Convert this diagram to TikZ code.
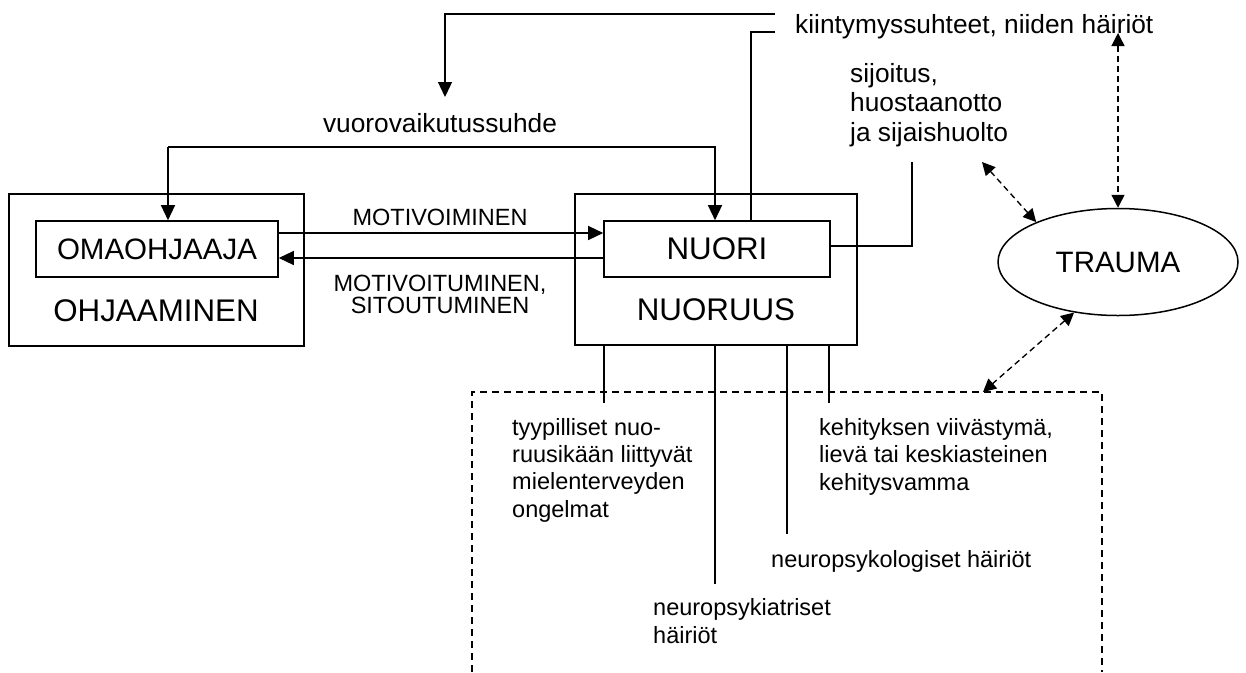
\documentclass[tikz,border=0pt]{standalone}
\usepackage{fontspec}
\setmainfont{Liberation Sans}
\usetikzlibrary{arrows.meta,shapes.geometric}
\begin{document}
\begin{tikzpicture}[x=1pt,y=-1pt,
  box/.style={draw, line width=1.6pt, inner sep=0pt},
  con/.style={line width=1.35pt},
  arr/.style={con, -{Triangle[length=15pt,width=14pt]}},
  darr/.style={line width=1.35pt, dash pattern=on 6pt off 4pt,
    {Triangle[length=13pt,width=13pt]}-{Triangle[length=13pt,width=13pt]}},
  bigA/.style={font=\fontsize{29.5}{34}\selectfont, inner sep=0pt},
  bigB/.style={font=\fontsize{31.3}{34}\selectfont, inner sep=0pt},
  caps/.style={font=\fontsize{23.5}{22}\selectfont, inner sep=0pt, align=center, anchor=base},
  txt/.style={font=\fontsize{26.3}{29.5}\selectfont, inner sep=0pt, align=left, anchor=base west},
  low/.style={font=\fontsize{23.5}{27.3}\selectfont, inner sep=0pt, align=left, anchor=base west},
]
\useasboundingbox (0,0) rectangle (1246,672);

% boxes
\node[box, minimum width=295pt, minimum height=152pt] (ohj) at (156.5,270) {};
\node[box, bigA, minimum width=242pt, minimum height=56pt] (oma) at (157,249) {OMAOHJAAJA};
\node[bigB] (ohjt) at (156,311) {OHJAAMINEN};
\node[box, minimum width=282pt, minimum height=151pt] (nuo) at (716,269.5) {};
\node[box, bigB, minimum width=226pt, minimum height=56pt] (nuori) at (717,249) {NUORI};
\node[bigB] (nuot) at (716,310) {NUORUUS};
\node[ellipse, draw, line width=1.5pt, bigA, minimum width=240pt, minimum height=107pt] (trauma) at (1118,262) {\raisebox{-7pt}{TRAUMA}};

% texts (base anchor of a multi-line node = baseline of its last line)
\node[txt] (kiin) at (795,33) {kiintymyssuhteet, niiden häiriöt};
\node[txt, anchor=base] (vuoro) at (440,132) {vuorovaikutussuhde};
\node[txt] (sij) at (850,141) {sijoitus,\\huostaanotto\\ja sijaishuolto};
\node[caps] (mot1) at (440,225) {MOTIVOIMINEN};
\node[caps] (mot2) at (440,313) {MOTIVOITUMINEN,\\SITOUTUMINEN};
\node[low] (t1) at (512,517) {tyypilliset nuo-\\ruusikään liittyvät\\mielenterveyden\\ongelmat};
\node[low] (t2) at (819,490) {kehityksen viivästymä,\\lievä tai keskiasteinen\\kehitysvamma};
\node[low] (t3) at (771,567) {neuropsykologiset häiriöt};
\node[low] (t4) at (653,643) {neuropsykiatriset\\häiriöt};

% connectors
\coordinate (k1) at (775,14);
\coordinate (k2) at (775,32);
\coordinate (k3) at (751,32);
\coordinate (va) at (445,97);
\draw[arr] (k1) -| (va);
\draw[con] (k2) -- (k3) -- (k3 |- nuori.north);
\coordinate (vl) at (168,147);
\coordinate (vr) at (715,147);
\draw[arr] (vl) -- (vl |- oma.north);
\draw[arr] (vl) -- (vr) -- (vr |- nuori.north);
\draw[arr] (oma.east |- 0,233) -- (nuori.west |- 0,233);
\draw[arr] (nuori.west |- 0,258) -- (oma.east |- 0,258);
\coordinate (s1) at (912,162);
\draw[con] (nuori.east |- 0,246) -| (s1);
\foreach \x/\l in {604/57, 715/238, 787/188, 829/57}
  \draw[con] (nuo.south -| \x,0) -- ++(0,\l);

% dashed region
\draw[line width=1.35pt, dash pattern=on 7pt off 5pt] (472,672) -- (472,392) -- (1102,392) -- (1102,672);
\coordinate (db) at (983,392);
\coordinate (kd) at (1118,33);
\coordinate (sd) at (982,162);
\draw[darr] (kd) -- (trauma.north);
\draw[darr] (sd) -- (trauma.154);
\draw[darr] (trauma.229) -- (db);
\end{tikzpicture}
\end{document}
